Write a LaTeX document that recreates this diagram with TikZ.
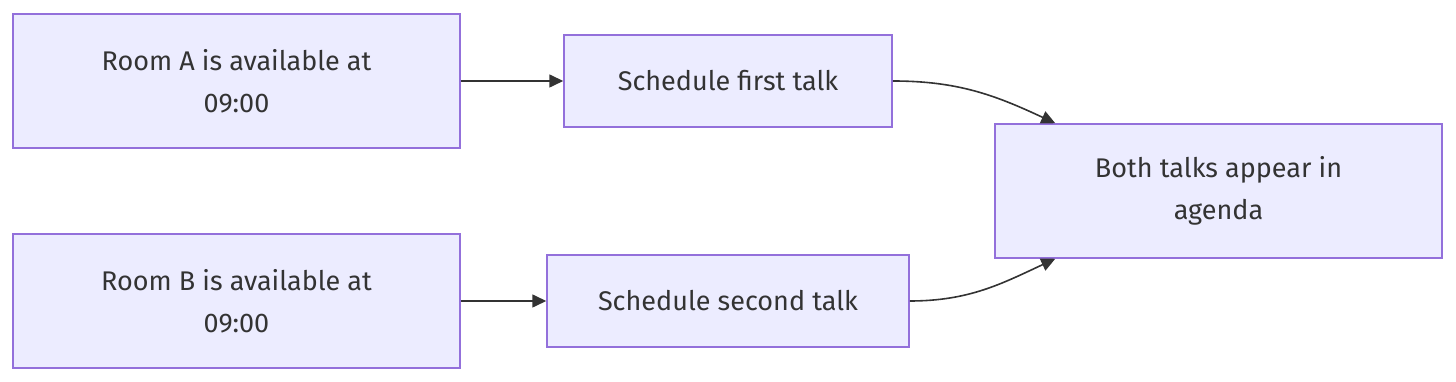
\documentclass[tikz,border=0pt]{standalone}
\usepackage{fontspec}
\setmainfont{Fira Sans}
\usepackage{tikz}
\usetikzlibrary{arrows.meta,positioning}
\definecolor{NodeFill}{HTML}{ECECFF}
\definecolor{NodeLine}{HTML}{9370DB}
\definecolor{InkGrey}{HTML}{333333}

\begin{document}
\begin{tikzpicture}[
    x=1pt, y=1pt,
    every node/.style={font=\fontsize{27}{42}\selectfont, text=InkGrey},
    room/.style={rectangle, draw=NodeLine, fill=NodeFill, line width=1.5pt, minimum width=447pt, minimum height=134pt, align=center, inner sep=0pt},
    talk/.style={rectangle, draw=NodeLine, fill=NodeFill, line width=1.5pt, minimum height=92pt, align=center, inner sep=0pt},
    arrow/.style={-{Triangle[length=14pt,width=13pt]}, line width=1.6pt, color=InkGrey}
  ]
    \useasboundingbox (0,0) rectangle (1456,382);

    \node[room] (roomA) at (236.5,301) {Room A is available at\\09:00};
    \node[room] (roomB) at (236.5,81) {Room B is available at\\09:00};
    \node[talk, minimum width=328pt, right=102.5pt of roomA] (first) {Schedule first talk};
    \node[talk, minimum width=362pt, right=85.5pt of roomB] (second) {Schedule second talk};
    \node[room] (agenda) at (1218.5,191) {Both talks appear in\\agenda};

    \coordinate (agendaTop) at ([xshift=61pt]agenda.north west);
    \coordinate (agendaBot) at ([xshift=61pt]agenda.south west);

    \draw[arrow] (roomA) -- (first);
    \draw[arrow] (roomB) -- (second);
    \draw[arrow] (first.east) to[out=0, in=155] (agendaTop);
    \draw[arrow] (second.east) to[out=0, in=205] (agendaBot);
  \end{tikzpicture}
\end{document}
